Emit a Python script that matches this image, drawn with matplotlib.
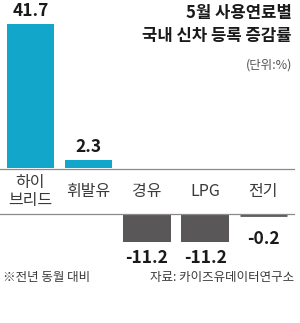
import matplotlib.pyplot as plt
from matplotlib.lines import Line2D

plt.rcParams['font.family'] = ['Noto Sans CJK KR', 'DejaVu Sans']

categories = ['하이\n브리드', '휘발유', '경유', 'LPG', '전기']
values = [41.7, 2.3, -11.2, -11.2, -0.2]
value_labels = ['41.7', '2.3', '-11.2', '-11.2', '-0.2']

blue = '#12a6cb'
gray = '#595757'

W, H = 300, 323
fig = plt.figure(figsize=(W / 100, H / 100), dpi=100)


def px_axes(x0, y_top, w, h):
    # axes placed by pixel coordinates (y measured from top)
    return fig.add_axes([x0 / W, (H - y_top - h) / H, w / W, h / H])


xlim = (-30.5 / 58.2, (W - 30.5) / 58.2)
width = 47.5 / 58.2
xs = list(range(len(categories)))

# upper panel: positive bars
ax_top = px_axes(0, 0, W, 168)
pos = [v if v > 0 else 0 for v in values]
ax_top.bar(xs, pos, width=width, color=blue)
ax_top.set_xlim(xlim)
ax_top.set_ylim(0, 41.7 * 168 / 144)
ax_top.axis('off')
for x, v, lab in zip(xs, values, value_labels):
    if v > 0:
        ax_top.annotate(lab, (x, v), xytext=(0, 3), textcoords='offset points',
                        ha='center', va='bottom', fontsize=12.5, fontweight='bold',
                        color='#1a1a1a')

# lower panel: negative bars
ax_bot = px_axes(0, 215, W, 108)
neg = [v if v < 0 else 0 for v in values]
bars = ax_bot.bar(xs, neg, width=width, color=gray)
bars[-1].set_edgecolor(gray)
bars[-1].set_linewidth(2)
ax_bot.set_xlim(xlim)
ax_bot.set_ylim(-108 / 2.384, 0)
ax_bot.axis('off')
for x, v, lab in zip(xs, values, value_labels):
    if v < 0:
        y = min(v, -3.5)
        ax_bot.annotate(lab, (x, y), xytext=(0, -5), textcoords='offset points',
                        ha='center', va='top', fontsize=12.5, fontweight='bold',
                        color='#1a1a1a')

# category band
ax_mid = px_axes(0, 168, W, 47)
ax_mid.set_xlim(xlim)
ax_mid.set_ylim(0, 1)
ax_mid.axis('off')
for x, c in zip(xs, categories):
    ax_mid.text(x, 0.5, c, ha='center', va='center', fontsize=11.5,
                color='#3a3a3a', linespacing=1.0)

for y in (169, 214):
    fig.add_artist(Line2D([0, 294 / W], [(H - y) / H] * 2, color='#8a8a8a', lw=0.9))

# title and notes
fig.text(292 / W, (H - 13) / H, '5월 사용연료별', ha='right', va='center',
         fontsize=12, fontweight='bold', color='#1a1a1a')
fig.text(292 / W, (H - 36) / H, '국내 신차 등록 증감률', ha='right', va='center',
         fontsize=12, fontweight='bold', color='#1a1a1a')
fig.text(292 / W, (H - 65) / H, '(단위:%)', ha='right', va='center',
         fontsize=9, color='#555555')
fig.text(3 / W, (H - 278) / H, '※전년 동월 대비', ha='left', va='center',
         fontsize=9, color='#3a3a3a')
fig.text(294 / W, (H - 278) / H, '자료: 카이즈유데이터연구소', ha='right', va='center',
         fontsize=9, color='#3a3a3a')

fig.savefig('out.png', dpi=100, facecolor='white')
